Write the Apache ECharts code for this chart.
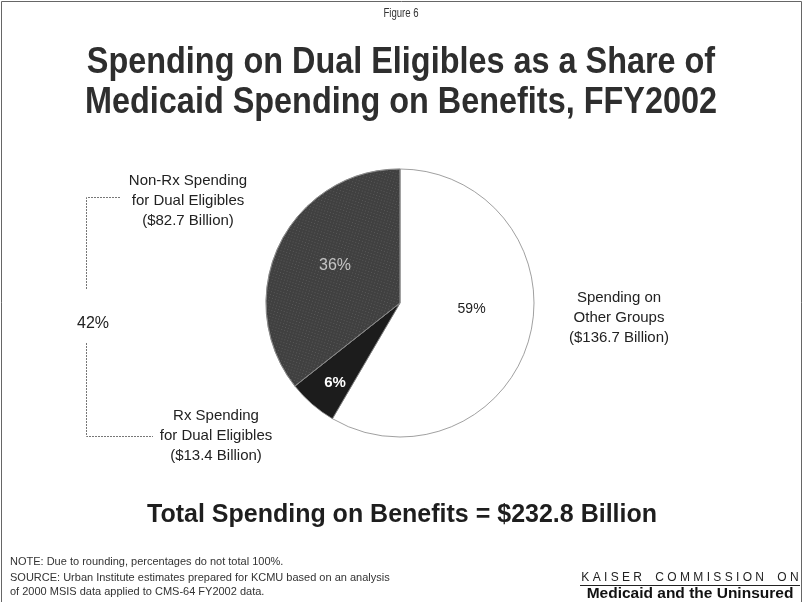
<!DOCTYPE html>
<html>
<head>
<meta charset="utf-8">
<script src="https://cdn.jsdelivr.net/npm/echarts@6/dist/echarts.min.js"></script>
<style>
html, body { margin: 0; padding: 0; background: #fff; }
#main { width: 804px; height: 602px; }
</style>
</head>
<body>
<div id="main"></div>
<script>
var sliceNames = ['Spending on Other Groups', 'Rx Spending for Dual Eligibles', 'Non-Rx Spending for Dual Eligibles'];
var sliceShares = [59, 6, 36];
var sliceBillions = [136.7, 13.4, 82.7];
var sliceColors = ['#ffffff', '#1c1c1c', '#404040'];
var totalBillion = 232.8;
var dualShare = 42;

var myChart = echarts.init(document.getElementById('main'));

var font = '"Liberation Sans", Arial, sans-serif';

var pieData = sliceNames.map(function (n, i) {
    return { name: n, value: sliceShares[i], itemStyle: { color: sliceColors[i] } };
});
// grainy look on the big dual-eligible slice
pieData[2].itemStyle.decal = {
    symbol: 'rect',
    symbolSize: 1,
    color: 'rgba(255,255,255,0.13)',
    dashArrayX: [1, 2],
    dashArrayY: [1, 2],
    rotation: 0.3
};

// per-slice inside label styles
var insideLabels = [
    { color: '#222', fontSize: 14, fontWeight: 'normal', dx: 4, dy: -12 },
    { color: '#fff', fontSize: 15, fontWeight: 'bold', dx: -19, dy: 27 },
    { color: '#c4c4c4', fontSize: 16, fontWeight: 'normal', dx: -2, dy: -7 }
];
pieData.forEach(function (d, i) {
    d.label = {
        color: insideLabels[i].color,
        fontSize: insideLabels[i].fontSize,
        fontWeight: insideLabels[i].fontWeight
    };
});

function textEl(x, y, lines, style, extra) {
    return Object.assign({
        type: 'text',
        x: x,
        y: y,
        style: Object.assign({
            text: lines.join('\n'),
            font: '15px ' + font,
            fill: '#222',
            align: 'center',
            verticalAlign: 'middle',
            lineHeight: 20
        }, style || {})
    }, extra || {});
}

var option = {
    backgroundColor: '#fff',
    animation: false,
    graphic: [
        { type: 'rect', shape: { x: 1.5, y: 1.5, width: 800, height: 610 },
          style: { fill: 'none', stroke: '#666', lineWidth: 1 } },
        textEl(401, 14, ['Figure 6'], { font: '12px ' + font, fill: '#333' }, { scaleX: 0.8 }),
        textEl(401, 63, ['Spending on Dual Eligibles as a Share of'], { font: 'bold 36px ' + font, fill: '#2e2e2e' }, { scaleX: 0.9 }),
        textEl(401, 103, ['Medicaid Spending on Benefits, FFY2002'], { font: 'bold 36px ' + font, fill: '#2e2e2e' }, { scaleX: 0.9 }),
        textEl(188, 201, ['Non-Rx Spending', 'for Dual Eligibles', '($' + sliceBillions[2] + ' Billion)']),
        textEl(216, 436, ['Rx Spending', 'for Dual Eligibles', '($' + sliceBillions[1] + ' Billion)']),
        textEl(619, 318, ['Spending on', 'Other Groups', '($' + sliceBillions[0] + ' Billion)']),
        textEl(93, 324, [dualShare + '%'], { font: '16px ' + font }),
        { type: 'polyline', shape: { points: [[120, 197.5], [86.5, 197.5], [86.5, 290]] },
          style: { stroke: '#777', lineWidth: 1, lineDash: [2, 1], fill: 'none' } },
        { type: 'polyline', shape: { points: [[86.5, 343], [86.5, 436.5], [153, 436.5]] },
          style: { stroke: '#777', lineWidth: 1, lineDash: [2, 1], fill: 'none' } },
        textEl(402, 515, ['Total Spending on Benefits = $' + totalBillion + ' Billion'], { font: 'bold 25px ' + font, fill: '#1e1e1e' }),
        textEl(10, 562, ['NOTE: Due to rounding, percentages do not total 100%.'], { font: '11px ' + font, align: 'left', fill: '#333' }),
        textEl(10, 578, ['SOURCE: Urban Institute estimates prepared for KCMU based on an analysis'], { font: '11px ' + font, align: 'left', fill: '#333' }),
        textEl(10, 592, ['of 2000 MSIS data applied to CMS-64 FY2002 data.'], { font: '11px ' + font, align: 'left', fill: '#333' }),
        textEl(690, 578, ['K A I S E R    C O M M I S S I O N    O N'], { font: '12px ' + font, fill: '#222' }),
        { type: 'line', shape: { x1: 580, y1: 585.5, x2: 800, y2: 585.5 }, style: { stroke: '#222', lineWidth: 1 } },
        textEl(690, 594, ['Medicaid and the Uninsured'], { font: 'bold 15.5px ' + font, fill: '#111' })
    ],
    series: [{
        type: 'pie',
        center: [400, 303],
        radius: [0, 134],
        startAngle: 90,
        clockwise: true,
        silent: true,
        itemStyle: { borderColor: '#888', borderWidth: 0.8 },
        label: {
            show: true,
            position: 'inside',
            fontFamily: font,
            formatter: function (p) { return sliceShares[p.dataIndex] + '%'; }
        },
        labelLayout: function (params) {
            var s = insideLabels[params.dataIndex];
            return { dx: s.dx, dy: s.dy };
        },
        labelLine: { show: false },
        data: pieData
    }]
};

myChart.setOption(option);
</script>
</body>
</html>
